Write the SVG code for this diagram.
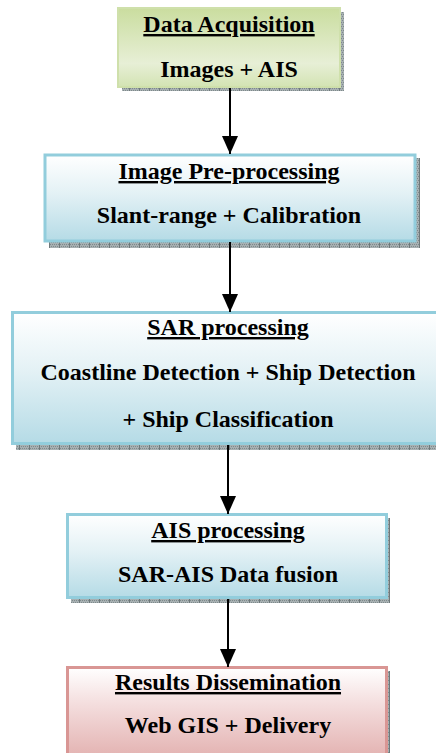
<svg xmlns="http://www.w3.org/2000/svg" width="436" height="753" viewBox="0 0 436 753">
<style>
.t{font-family:'Liberation Serif','DejaVu Serif',serif;font-weight:700;font-size:24px;fill:#000;text-anchor:middle}
.u{text-decoration:underline}
.sh{fill:url(#shade)}
.blue{fill:url(#gBlue);stroke:#92cddc;stroke-width:3}
.green{fill:url(#gGreen);stroke:#cfe0ab;stroke-width:2}
.pink{fill:url(#gPink);stroke:#d99694;stroke-width:3}
.con{stroke:#000;stroke-width:2;fill:none;marker-end:url(#ah)}
</style>
<defs>
<pattern id="shade" width="10" height="4" patternUnits="userSpaceOnUse">
<rect width="10" height="4" fill="#a7b0b2"/>
<rect x="0" y="0" width="1" height="1" fill="#7f8a8c"/>
<rect x="2" y="0" width="1" height="1" fill="#7f8a8c"/>
<rect x="4" y="0" width="1" height="1" fill="#7f8a8c"/>
<rect x="6" y="0" width="1" height="1" fill="#7f8a8c"/>
<rect x="8" y="0" width="1" height="1" fill="#7f8a8c"/>
<rect x="1" y="2" width="1" height="1" fill="#7f8a8c"/>
<rect x="3" y="2" width="1" height="1" fill="#7f8a8c"/>
<rect x="5" y="2" width="1" height="1" fill="#7f8a8c"/>
<rect x="7" y="2" width="1" height="1" fill="#7f8a8c"/>
<rect x="9" y="0" width="1" height="4" fill="#6f797b"/>
</pattern>
<linearGradient id="gBlue" x1="0" y1="0" x2="0" y2="1">
<stop offset="0" stop-color="#ffffff"/>
<stop offset="0.45" stop-color="#e3f1f5"/>
<stop offset="1" stop-color="#b5dbe6"/>
</linearGradient>
<linearGradient id="gGreen" x1="0" y1="0" x2="0" y2="1">
<stop offset="0" stop-color="#cadd9f"/>
<stop offset="0.7" stop-color="#e7efd6"/>
<stop offset="1" stop-color="#d3e3b3"/>
</linearGradient>
<linearGradient id="gPink" x1="0" y1="0" x2="0" y2="1">
<stop offset="0" stop-color="#ffffff"/>
<stop offset="0.4" stop-color="#f4dede"/>
<stop offset="1" stop-color="#e3b2b1"/>
</linearGradient>
<marker id="ah" markerWidth="18" markerHeight="16" refX="18" refY="8" orient="auto" markerUnits="userSpaceOnUse" viewBox="0 0 18 16">
<path d="M0,0 L18,8 L0,16 Z" fill="#000"/>
</marker>
</defs>

<g id="n1">
<rect class="sh" x="122" y="12" width="222" height="79"/>
<rect class="green" x="118" y="8" width="222" height="79"/>
<text class="t u" x="229" y="32" font-family="Liberation Serif, serif">Data Acquisition</text>
<text class="t" x="229" y="77" font-family="Liberation Serif, serif">Images + AIS</text>
</g>

<g id="n2">
<rect class="sh" x="49" y="158" width="371" height="90"/>
<rect class="blue" x="45" y="155" width="370" height="86"/>
<text class="t u" x="229" y="179" font-family="Liberation Serif, serif">Image Pre-processing</text>
<text class="t" x="229" y="223" font-family="Liberation Serif, serif">Slant-range + Calibration</text>
</g>

<g id="n3">
<rect class="sh" x="16" y="316" width="424" height="134"/>
<rect class="blue" x="12.5" y="312.5" width="428" height="131"/>
<text class="t u" x="228" y="335" font-family="Liberation Serif, serif">SAR processing</text>
<text class="t" x="228" y="380" font-family="Liberation Serif, serif">Coastline Detection + Ship Detection</text>
<text class="t" x="228" y="427" font-family="Liberation Serif, serif">+ Ship Classification</text>
</g>

<g id="n4">
<rect class="sh" x="71" y="518" width="319" height="85"/>
<rect class="blue" x="67.5" y="514.5" width="319" height="83"/>
<text class="t u" x="228" y="538" font-family="Liberation Serif, serif">AIS processing</text>
<text class="t" x="228" y="582" font-family="Liberation Serif, serif">SAR-AIS Data fusion</text>
</g>

<g id="n5">
<rect class="sh" x="71" y="671" width="319" height="90"/>
<rect class="pink" x="67.5" y="667.5" width="319" height="90"/>
<text class="t u" x="228" y="690" font-family="Liberation Serif, serif">Results Dissemination</text>
<text class="t" x="228" y="733" font-family="Liberation Serif, serif">Web GIS + Delivery</text>
</g>

<g id="connectors">
<line class="con" x1="230" y1="88" x2="230" y2="154"/>
<line class="con" x1="230" y1="242" x2="230" y2="312"/>
<line class="con" x1="228" y1="445" x2="228" y2="514"/>
<line class="con" x1="228" y1="599" x2="228" y2="667"/>
</g>
</svg>
